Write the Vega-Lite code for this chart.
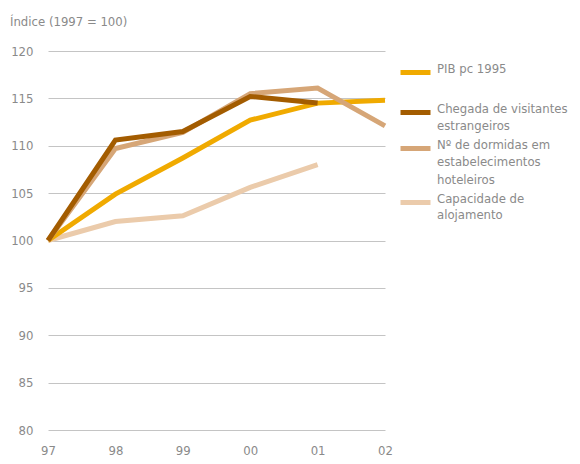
{
  "$schema": "https://vega.github.io/schema/vega-lite/v6.json",
  "autosize": "none",
  "padding": {"left": 48, "top": 51, "right": 195, "bottom": 34},
  "width": 337,
  "height": 379,
  "background": "white",
  "title": {
    "text": "Índice (1997 = 100)",
    "anchor": "start",
    "frame": "group",
    "dx": -38,
    "offset": 16,
    "fontSize": 13,
    "fontWeight": "normal",
    "color": "#8a8a8a",
    "font": "'DejaVu Sans Condensed', Roboto, sans-serif"
  },
  "data": {
    "values": [
      {"serie": "Capacidade de alojamento", "ano": "97", "valor": 100},
      {"serie": "Capacidade de alojamento", "ano": "98", "valor": 102.0},
      {"serie": "Capacidade de alojamento", "ano": "99", "valor": 102.6},
      {"serie": "Capacidade de alojamento", "ano": "00", "valor": 105.6},
      {"serie": "Capacidade de alojamento", "ano": "01", "valor": 108.0},
      {"serie": "PIB pc 1995", "ano": "97", "valor": 100},
      {"serie": "PIB pc 1995", "ano": "98", "valor": 104.9},
      {"serie": "PIB pc 1995", "ano": "99", "valor": 108.7},
      {"serie": "PIB pc 1995", "ano": "00", "valor": 112.7},
      {"serie": "PIB pc 1995", "ano": "01", "valor": 114.5},
      {"serie": "PIB pc 1995", "ano": "02", "valor": 114.8},
      {"serie": "Nº de dormidas em estabelecimentos hoteleiros", "ano": "97", "valor": 100},
      {"serie": "Nº de dormidas em estabelecimentos hoteleiros", "ano": "98", "valor": 109.7},
      {"serie": "Nº de dormidas em estabelecimentos hoteleiros", "ano": "99", "valor": 111.4},
      {"serie": "Nº de dormidas em estabelecimentos hoteleiros", "ano": "00", "valor": 115.5},
      {"serie": "Nº de dormidas em estabelecimentos hoteleiros", "ano": "01", "valor": 116.1},
      {"serie": "Nº de dormidas em estabelecimentos hoteleiros", "ano": "02", "valor": 112.1},
      {"serie": "Chegada de visitantes estrangeiros", "ano": "97", "valor": 100},
      {"serie": "Chegada de visitantes estrangeiros", "ano": "98", "valor": 110.6},
      {"serie": "Chegada de visitantes estrangeiros", "ano": "99", "valor": 111.5},
      {"serie": "Chegada de visitantes estrangeiros", "ano": "00", "valor": 115.2},
      {"serie": "Chegada de visitantes estrangeiros", "ano": "01", "valor": 114.5}
    ]
  },
  "mark": {"type": "line", "strokeWidth": 5, "strokeJoin": "miter", "strokeCap": "butt"},
  "encoding": {
    "x": {
      "field": "ano",
      "type": "ordinal",
      "sort": ["97", "98", "99", "00", "01", "02"],
      "scale": {"type": "point", "padding": 0},
      "axis": {
        "title": null,
        "labelAngle": 0,
        "ticks": false,
        "domain": false,
        "grid": false,
        "labelPadding": 14,
        "labelFontSize": 13,
        "labelColor": "#8a8a8a",
        "labelFont": "'DejaVu Sans Condensed', Roboto, sans-serif"
      }
    },
    "y": {
      "field": "valor",
      "type": "quantitative",
      "scale": {"domain": [80, 120], "nice": false, "zero": false},
      "axis": {
        "title": null,
        "values": [80, 85, 90, 95, 100, 105, 110, 115, 120],
        "ticks": false,
        "domain": false,
        "labelPadding": 15,
        "labelFontSize": 13,
        "labelColor": "#8a8a8a",
        "labelFont": "'DejaVu Sans Condensed', Roboto, sans-serif",
        "gridColor": "#c4c4c4",
        "gridWidth": 1
      }
    },
    "color": {
      "field": "serie",
      "type": "nominal",
      "scale": {
        "domain": ["PIB pc 1995", "Chegada de visitantes estrangeiros", "Nº de dormidas em estabelecimentos hoteleiros", "Capacidade de alojamento"],
        "range": ["#f0aa00", "#a35c00", "#d6a677", "#ebcbab"]
      },
      "legend": {
        "title": null,
        "orient": "none",
        "legendX": 360,
        "legendY": 14,
        "symbolType": "M-3,0H3",
        "symbolStrokeWidth": 5,
        "symbolSize": 100,
        "labelFontSize": 13,
        "labelColor": "#8a8a8a",
        "labelFont": "'DejaVu Sans Condensed', Roboto, sans-serif",
        "labelLimit": 300,
        "labelOffset": 14,
        "labelBaseline": "alphabetic",
        "rowPadding": 5,
        "labelExpr": "datum.label == 'PIB pc 1995' ? ['PIB pc 1995', ''] : datum.label == 'Chegada de visitantes estrangeiros' ? ['Chegada de visitantes', 'estrangeiros'] : datum.label == 'Capacidade de alojamento' ? ['Capacidade de', 'alojamento'] : ['Nº de dormidas em', 'estabelecimentos', 'hoteleiros']",
        "encode": {"labels": {"update": {"lineHeight": {"signal": "datum.value == 'PIB pc 1995' ? 21 : datum.value == 'Chegada de visitantes estrangeiros' ? 17 : datum.value == 'Capacidade de alojamento' ? 16 : 17.5"}}}}
      }
    }
  },
  "config": {"view": {"stroke": null}}
}
